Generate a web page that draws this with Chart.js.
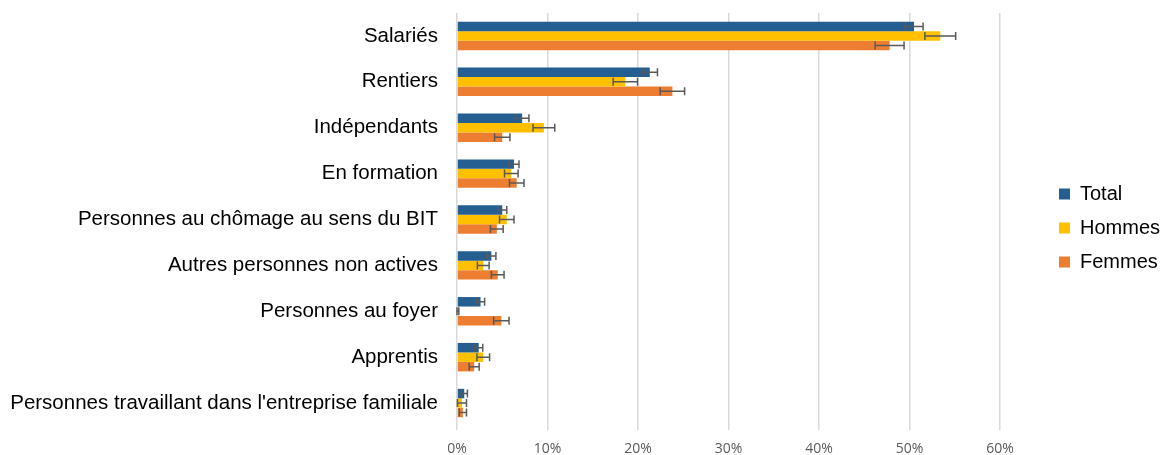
<!DOCTYPE html>
<html>
<head>
<meta charset="utf-8">
<script src="https://cdn.jsdelivr.net/npm/chart.js@4"></script>
<style>
	html, body { margin: 0; padding: 0; background: #fff; }
	#wrap { width: 1162px; height: 455px; }
</style>
</head>
<body>
<div id="wrap"><canvas id="chart-statut"></canvas></div>
<script>
// Data
const categories = [
	'Salariés',
	'Rentiers',
	'Indépendants',
	'En formation',
	'Personnes au chômage au sens du BIT',
	'Autres personnes non actives',
	'Personnes au foyer',
	'Apprentis',
	"Personnes travaillant dans l'entreprise familiale",
];
const total = [50.5, 21.3, 7.2, 6.3, 5.0, 3.8, 2.6, 2.4, 0.8];
const hommes = [53.4, 18.6, 9.6, 6.0, 5.5, 2.9, 0.1, 2.9, 0.55];
const femmes = [47.8, 23.8, 5.0, 6.6, 4.4, 4.5, 4.9, 1.9, 0.65];
// half width of the error bars (in points of %)
const totalErr = [1.0, 0.85, 0.75, 0.55, 0.5, 0.5, 0.45, 0.45, 0.35];
const hommesErr = [1.7, 1.35, 1.2, 0.75, 0.8, 0.65, 0.1, 0.7, 0.5];
const femmesErr = [1.6, 1.35, 0.85, 0.8, 0.7, 0.7, 0.85, 0.55, 0.4];
const xTicks = [0, 10, 20, 30, 40, 50, 60];

// error bars drawn on top of the bars
const errorBars = {
	id: 'errorBars',
	afterDatasetsDraw(chart) {
		const ctx = chart.ctx;
		const x = chart.scales.x;
		ctx.save();
		ctx.strokeStyle = '#595959';
		ctx.lineWidth = 1.5;
		chart.data.datasets.forEach((ds, i) => {
			const meta = chart.getDatasetMeta(i);
			meta.data.forEach((bar, j) => {
				const v = ds.data[j];
				const e = ds.errors[j];
				const x1 = x.getPixelForValue(v - e);
				const x2 = x.getPixelForValue(v + e);
				const y = bar.y;
				ctx.beginPath();
				ctx.moveTo(x1, y);
				ctx.lineTo(x2, y);
				ctx.moveTo(x1, y - 4);
				ctx.lineTo(x1, y + 4);
				ctx.moveTo(x2, y - 4);
				ctx.lineTo(x2, y + 4);
				ctx.stroke();
			});
		});
		ctx.restore();
	},
};

// push the legend to the right edge, as in the original
const legendShift = {
	id: 'legendShift',
	afterLayout(chart) {
		chart.legend.left += 45;
		chart.legend.right += 45;
		chart.legend.top -= 6;
		chart.legend.bottom -= 6;
	},
};

!(function () {
	const ctx = document.getElementById('chart-statut');

	new Chart(ctx, {
		type: 'bar',
		data: {
			labels: categories,
			datasets: [
				{ label: 'Total', data: total, errors: totalErr, backgroundColor: '#255E91' },
				{ label: 'Hommes', data: hommes, errors: hommesErr, backgroundColor: '#FFC000' },
				{ label: 'Femmes', data: femmes, errors: femmesErr, backgroundColor: '#ED7D31' },
			],
		},
		options: {
			indexAxis: 'y',
			responsive: true,
			maintainAspectRatio: false,
			animation: false,
			categoryPercentage: 0.62,
			barPercentage: 1,
			layout: {
				padding: { top: 13, right: 0, bottom: 0, left: 0 },
			},
			scales: {
				x: {
					min: 0,
					max: 60,
					afterBuildTicks(axis) {
						axis.ticks = xTicks.map((v) => ({ value: v }));
					},
					afterFit(axis) {
						axis.height = 29;
						axis.paddingRight = 162; // room for the legend
					},
					grid: { color: '#D9D9D9', lineWidth: 1.5, drawTicks: true, tickLength: 4 },
					border: { display: false },
					ticks: {
						color: '#595959',
						font: { family: 'Open Sans', size: 14 },
						padding: 11,
						callback: (v) => v + '%',
					},
				},
				y: {
					afterFit(axis) {
						axis.width = 457;
						axis.paddingTop = 0;
						axis.paddingBottom = 0;
					},
					grid: { display: false, drawTicks: false },
					border: { display: false },
					ticks: {
						color: '#000',
						font: { family: 'Liberation Sans', size: 20.5 },
						padding: 19,
					},
				},
			},
			plugins: {
				legend: {
					position: 'right',
					labels: {
						boxWidth: 11,
						boxHeight: 11,
						padding: 14,
						color: '#000',
						font: { family: 'Liberation Sans', size: 20 },
					},
				},
				tooltip: { enabled: false },
			},
		},
		plugins: [errorBars, legendShift],
	});
})();
</script>
</body>
</html>
